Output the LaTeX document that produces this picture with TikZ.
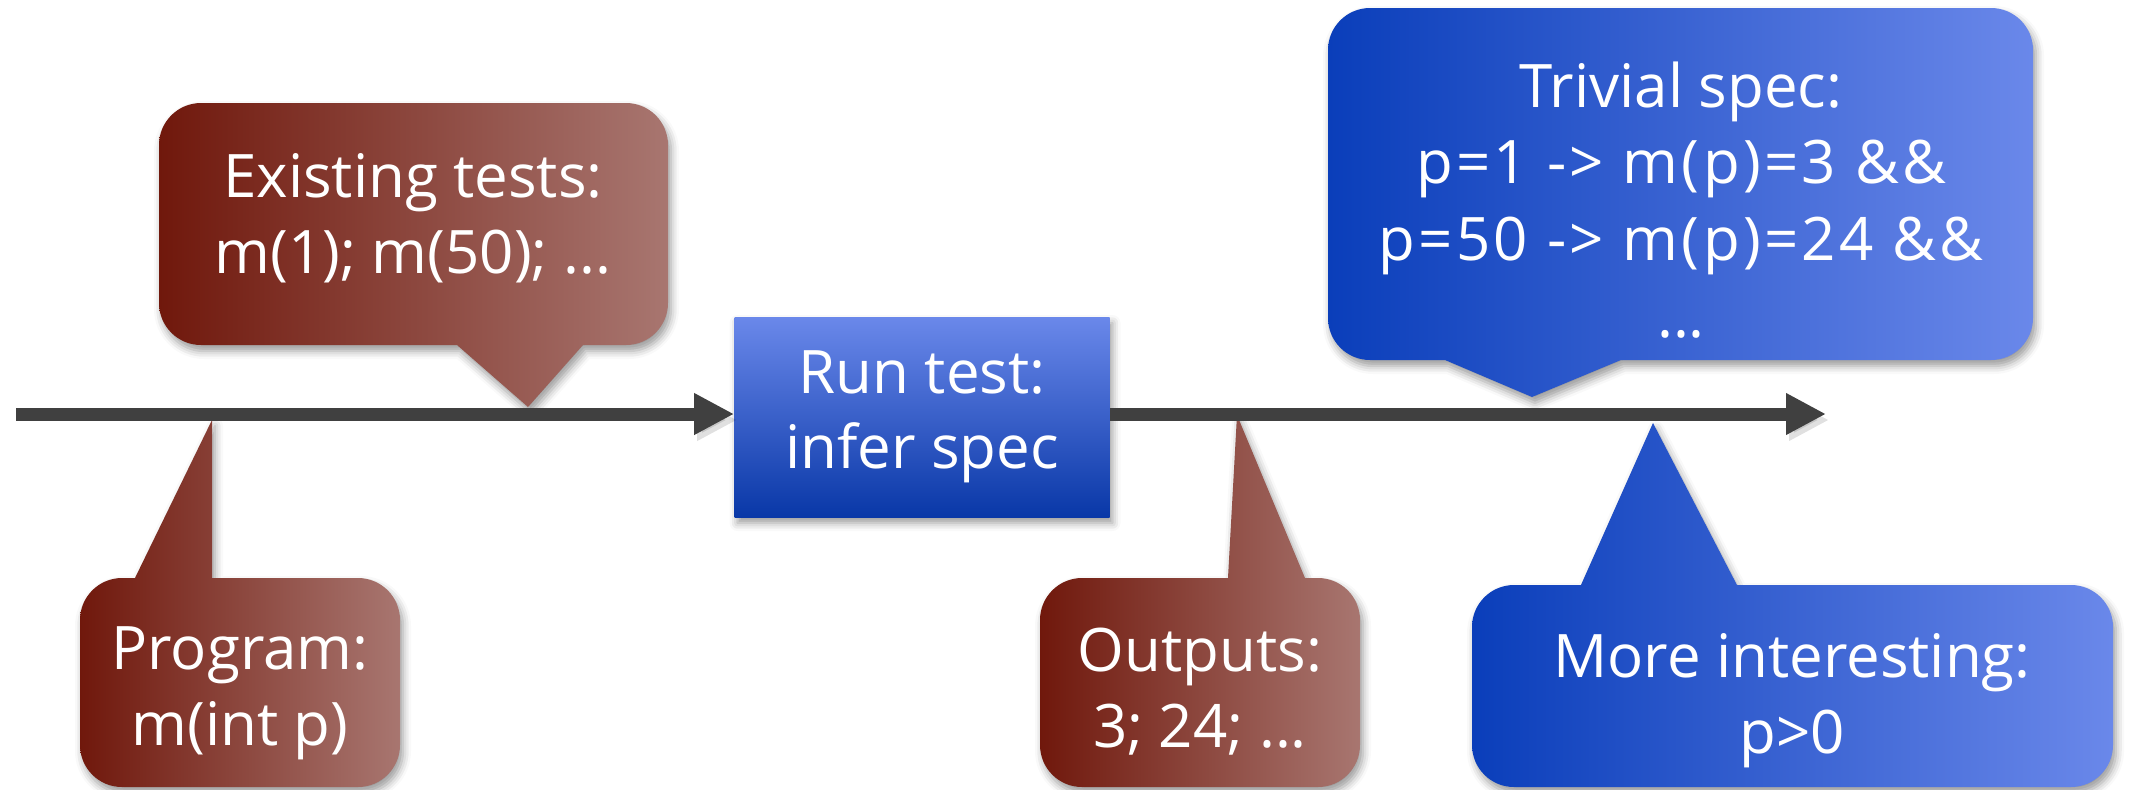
\documentclass[tikz,border=0pt]{standalone}
\usepackage{fontspec}
\usepackage{tikz}
\usetikzlibrary{arrows.meta,shadows.blur}
\newfontfamily\calloutfont{Open Sans}
\newfontfamily\specfont[LetterSpace=5.5]{Open Sans}
\definecolor{rustdark}{RGB}{112,24,12}
\definecolor{rustlight}{RGB}{168,118,112}
\definecolor{navydark}{RGB}{10,62,186}
\definecolor{navylight}{RGB}{106,136,234}
\definecolor{arrowgray}{RGB}{64,64,64}

\begin{document}
\begin{tikzpicture}[x=0.5pt,y=-0.5pt,
  flow/.style={line width=6.5pt,draw=arrowgray,-{Triangle[length=20pt,width=19.5pt]},
    preaction={draw=black,opacity=0.12,transform canvas={shift={(1.5pt,-3pt)}}}},
  soft/.style={rounded corners=21pt},
  balloon/.style={blur shadow={shadow xshift=1.5pt,shadow yshift=-3pt,shadow blur radius=4pt,shadow opacity=40}},
  rust balloon/.style={balloon,left color=rustdark,right color=rustlight},
  navy balloon/.style={balloon,left color=navydark,right color=navylight},
  words/.style={text=white,align=center,anchor=base,font=\calloutfont\fontsize{30}{38}\selectfont},
  runbox/.style={top color=navylight,bottom color=navydark!90!black,text=white,align=center,
    minimum width=187.5pt,minimum height=100pt,inner sep=0pt,
    font=\calloutfont\fontsize{30}{37.5}\selectfont,balloon}]
  \useasboundingbox (0,0) rectangle (2133,789);

  % balloons: tip first, then the rounded body
  \path[rust balloon] (528,407) -- (583,345) [soft] -- (668,345) -- (668,103) -- (159,103)
    -- (159,345) [sharp corners] -- (457,345) -- cycle;
  \path[rust balloon] (212,420) -- (212,578) [soft] -- (400,578) -- (400,787) -- (80,787)
    -- (80,578) [sharp corners] -- (135,578) -- cycle;
  \path[rust balloon] (1237,415) -- (1305,578) [soft] -- (1360,578) -- (1360,787) -- (1040,787)
    -- (1040,578) [sharp corners] -- (1228,578) -- cycle;
  \path[navy balloon] (1532,397) -- (1621,360) [soft] -- (2033,360) -- (2033,8) -- (1328,8)
    -- (1328,360) [sharp corners] -- (1445,360) -- cycle;
  \path[navy balloon] (1653,423) -- (1737,585) [soft] -- (2113,585) -- (2113,787) -- (1472,787)
    -- (1472,585) [sharp corners] -- (1581,585) -- cycle;

  % texts, placed by the baseline of their last line
  \node[words] (tests) at (413,273) {Existing tests:\\m(1); m(50); ...};
  \node[words] (prog) at (240,745) {Program:\\m(int p)};
  \node[words] (outs) at (1200,747) {Outputs:\\3; 24; ...};
  \node[words,font=\calloutfont\fontsize{30}{38.3}\selectfont] (trivial) at (1681,337)
    {Trivial spec:\\{\specfont p=1 -> m(p)=3 \&\&}\\{\specfont p=50 -> m(p)=24 \&\&}\\...};
  \node[words] (inter) at (1792,753) {More interesting:\\p>0};

  % time line
  \node[runbox] (run) at (922,417) {Run test:\\infer spec};
  \coordinate (start) at (16,414);
  \coordinate (finish) at (1826,414);
  \draw[flow] (start) -- (start -| run.west);
  \draw[flow] (run.east |- finish) -- (finish);
\end{tikzpicture}
\end{document}
